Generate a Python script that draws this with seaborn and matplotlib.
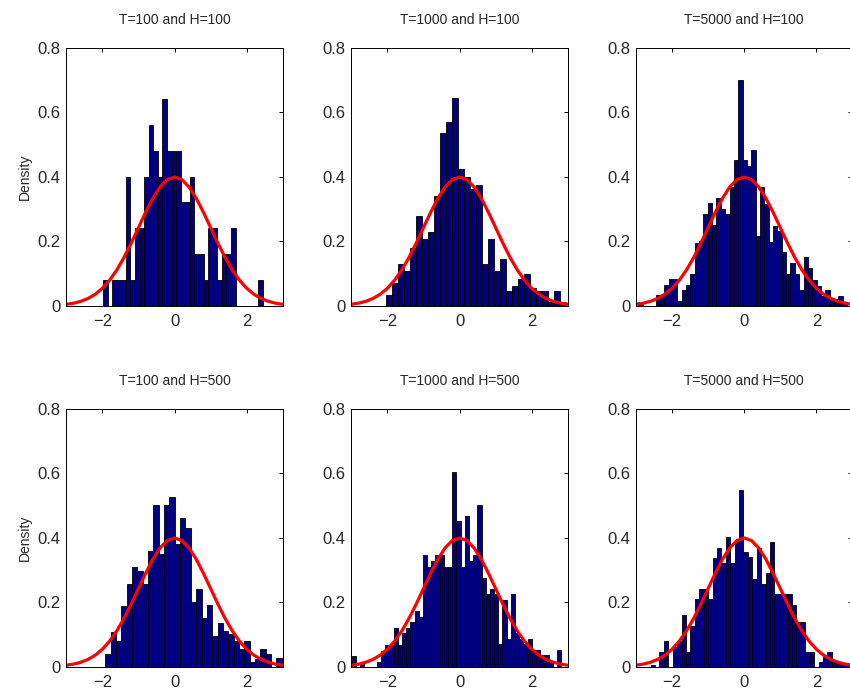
import numpy as np
import pandas as pd
import seaborn as sns
import matplotlib
matplotlib.use("Agg")
import matplotlib.pyplot as plt

# panel titles
titles = ["T=100 and H=100", "T=1000 and H=100", "T=5000 and H=100",
          "T=100 and H=500", "T=1000 and H=500", "T=5000 and H=500"]

# histogram bins: left edge of first bin, bin width, density per bin
p1_start, p1_width = -1.982, 0.1267
p1_heights = [0.08, 0, 0.08, 0.08, 0.08, 0.40, 0.08, 0.24, 0.24, 0.40, 0.56, 0.48,
              0.40, 0.64, 0.48, 0.48, 0.48, 0.32, 0.32, 0.40, 0.16, 0.16, 0.08, 0.24,
              0.24, 0.08, 0.16, 0.16, 0.24, 0, 0, 0, 0, 0, 0.08]

p2_start, p2_width = -2.03, 0.166
p2_heights = [0.033, 0.07, 0.13, 0.107, 0.18, 0.278, 0.206, 0.23, 0.34, 0.534, 0.57,
              0.643, 0.424, 0.40, 0.362, 0.375, 0.13, 0.206, 0.108, 0.144, 0.047,
              0.061, 0.082, 0.097, 0.055, 0.045, 0.047, 0.012, 0.047, 0.012]

p3_start, p3_width = -3.06, 0.1206
p3_heights = [0, 0.012, 0, 0, 0, 0.032, 0.032, 0.064, 0.083, 0.083, 0.014, 0.049,
              0.064, 0.098, 0.193, 0.2, 0.283, 0.317, 0.25, 0.333, 0.3, 0.283, 0.367,
              0.452, 0.7, 0.452, 0.434, 0.483, 0.216, 0.367, 0.315, 0.199, 0.248,
              0.232, 0.165, 0.098, 0.131, 0.098, 0.05, 0.15, 0.117, 0.08, 0.06, 0.03,
              0.05, 0.02, 0.02, 0.03, 0.01]

p4_start, p4_width = -1.917, 0.148
p4_heights = [0.04, 0.106, 0.08, 0.188, 0.257, 0.31, 0.297, 0.257, 0.36, 0.5, 0.35,
              0.5, 0.527, 0.38, 0.46, 0.43, 0.2, 0.24, 0.15, 0.19, 0.095, 0.135, 0.11,
              0.1, 0.08, 0.055, 0.08, 0.015, 0.025, 0.055, 0.04, 0.0, 0.028]

p5_start, p5_width = -2.99, 0.1161
p5_heights = [0.033, 0, 0.015, 0, 0, 0, 0.015, 0.05, 0.067, 0.067, 0.12, 0.067, 0.103,
              0.12, 0.14, 0.172, 0.155, 0.345, 0.31, 0.327, 0.345, 0.345, 0.31, 0.31,
              0.603, 0.45, 0.31, 0.466, 0.327, 0.345, 0.5, 0.275, 0.224, 0.241, 0.224,
              0.069, 0.206, 0.086, 0.224, 0.103, 0.085, 0.069, 0.085, 0.052, 0.052,
              0.036, 0.036, 0.015, 0, 0.052]

p6_start, p6_width = -2.594, 0.1225
p6_heights = [0.005, 0, 0.047, 0.08, 0, 0.06, 0.08, 0.16, 0.047, 0.127, 0.209, 0.241,
              0.24, 0.209, 0.336, 0.369, 0.322, 0.401, 0.322, 0.388, 0.548, 0.354,
              0.339, 0.273, 0.369, 0.256, 0.289, 0.386, 0.224, 0.224, 0.224, 0.224,
              0.191, 0.14, 0.14, 0.047, 0.047, 0, 0.016, 0.03, 0.047, 0.016, 0.016,
              0.01, 0.01]

# red reference density curve (same in every panel)
curve_x = [-3.0, -2.8, -2.6, -2.4, -2.2, -2.0, -1.8, -1.6, -1.4, -1.2, -1.0, -0.8,
           -0.6, -0.4, -0.2, 0.0, 0.2, 0.4, 0.6, 0.8, 1.0, 1.2, 1.4, 1.6, 1.8, 2.0,
           2.2, 2.4, 2.6, 2.8, 3.0]
curve_y = [0.0044, 0.0079, 0.0136, 0.0224, 0.0355, 0.0540, 0.0790, 0.1109, 0.1497,
           0.1942, 0.2420, 0.2897, 0.3332, 0.3683, 0.3910, 0.3989, 0.3910, 0.3683,
           0.3332, 0.2897, 0.2420, 0.1942, 0.1497, 0.1109, 0.0790, 0.0540, 0.0355,
           0.0224, 0.0136, 0.0079, 0.0044]

panels = [(p1_start, p1_width, p1_heights), (p2_start, p2_width, p2_heights),
          (p3_start, p3_width, p3_heights), (p4_start, p4_width, p4_heights),
          (p5_start, p5_width, p5_heights), (p6_start, p6_width, p6_heights)]

sns.set_theme(style="white")
plt.rcParams['font.family'] = ['Liberation Sans', 'DejaVu Sans']
plt.rcParams['xtick.direction'] = 'in'
plt.rcParams['ytick.direction'] = 'in'

fig = plt.figure(figsize=(8.5, 6.92), dpi=100)

col_left = [0.078, 0.4133, 0.7482]
row_bottom = [0.5582, 0.0366]
ax_w, ax_h = 0.2547, 0.373

curve_df = pd.DataFrame({"x": curve_x, "y": curve_y})

for i, (start, width, heights) in enumerate(panels):
    row, col = divmod(i, 3)
    ax = fig.add_axes([col_left[col], row_bottom[row], ax_w, ax_h])

    edges = start + width * np.arange(len(heights) + 1)
    centers = (edges[:-1] + edges[1:]) / 2
    df = pd.DataFrame({"x": centers, "h": heights})
    sns.histplot(data=df, x="x", weights="h", bins=edges.tolist(), stat="count",
                 color="#000080", edgecolor="black", linewidth=0.6, alpha=1, ax=ax)
    sns.lineplot(data=curve_df, x="x", y="y", color="red", linewidth=2.3, ax=ax)

    ax.set_xlim(-3, 3)
    ax.set_ylim(0, 0.8)
    ax.set_xticks([-2, 0, 2])
    ax.set_yticks([0, 0.2, 0.4, 0.6, 0.8])
    ax.set_yticklabels(["0", "0.2", "0.4", "0.6", "0.8"])
    ax.tick_params(axis="both", which="both", top=True, right=True, length=3,
                   width=0.7, color="black", labelsize=12)
    ax.tick_params(axis="y", pad=4)
    ax.tick_params(axis="x", pad=6)
    for s in ax.spines.values():
        s.set_color("black")
        s.set_linewidth(0.7)
    ax.set_xlabel("")
    if col == 0:
        ax.set_ylabel("Density", fontsize=10)
        ax.yaxis.set_label_coords(-0.16, 0.5)
    else:
        ax.set_ylabel("")
    ax.set_title(titles[i], fontsize=10, pad=17)

plt.savefig("out.png", dpi=100)
